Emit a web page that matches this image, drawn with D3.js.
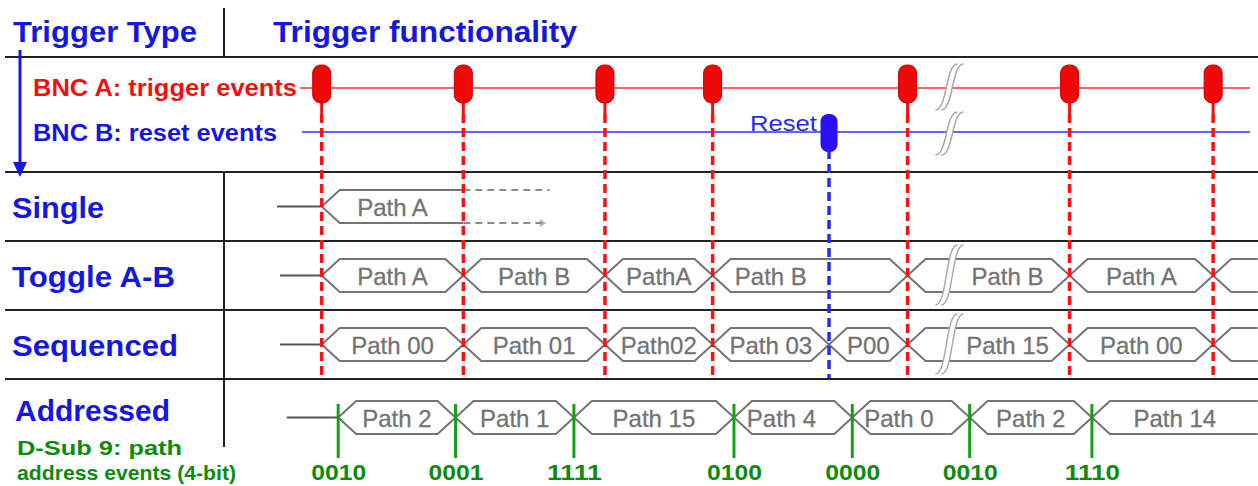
<!DOCTYPE html>
<html>
<head>
<meta charset="utf-8">
<script src="https://cdnjs.cloudflare.com/ajax/libs/d3/7.8.5/d3.min.js"></script>
<style>
  body { margin: 0; background: #fff; }
  svg { display: block; font-family: "Liberation Sans", Arial, sans-serif; }
</style>
</head>
<body>
<svg width="1258" height="486"></svg>
<script>
// Data ======================================================
// time runs over 0..100 arbitrary units across the diagram
var triggerTimes = [4.3, 18.9, 33.5, 44.6, 64.7, 81.4, 96.2];
var resetTimes = [56.6];
var breakTime = 68.6;
var singleHold = 27.8;
var timeEnd = 100.8;

var laneNames = ["Single", "Toggle A-B", "Sequenced", "Addressed"];
var signalNames = ["BNC A: trigger events", "BNC B: reset events"];

var toggleLabels = ["Path A", "Path B", "PathA", "Path B", "Path B", "Path A"];
var sequencedLabels = ["Path 00", "Path 01", "Path02", "Path 03", "P00", "Path 15", "Path 00"];

var addressStart = 0.7;
var addressTimes = [6.0, 18.1, 30.3, 46.8, 59.0, 71.1, 83.7];
var addressLabels = ["Path 2", "Path 1", "Path 15", "Path 4", "Path 0", "Path 2", "Path 14"];
var addressCodes = ["0010", "0001", "1111", "0100", "0000", "0010", "1110"];

// globals ===================================================
var BLUE = "#1616e2", RED = "#ee1111", GREEN_TXT = "#0c8c0c", GREEN = "#14a014", GRAY = "#747474";

var svg = d3.select("svg");
var x = d3.scaleLinear().domain([0, 100]).range([280, 1250]);
var laneY = d3.scaleBand().domain(laneNames).range([172, 448]);
var sigY = d3.scalePoint().domain(signalNames).range([88, 132]);
var h = 16.5, s = 18;

function laneCenter(name) {
  var c = laneY(name) + laneY.bandwidth() / 2;
  if (name == "Addressed") c += 4;
  return c;
}

// Helpers ===================================================

function fitText(g, str, x0, x1, y, size, color, weight) {
  return g.append("text")
    .attr("x", x0).attr("y", y)
    .attr("font-size", size)
    .attr("font-weight", weight || "bold")
    .attr("fill", color)
    .attr("textLength", x1 - x0)
    .attr("lengthAdjust", "spacingAndGlyphs")
    .text(str);
}

// label is centred in the widest piece of a segment cut by reset/break marks
function labelCenter(a, b) {
  var cuts = [a].concat(resetTimes, [breakTime]).filter(function(t) { return t > a && t < b; });
  cuts.push(b);
  var best = [a, b], prev = a, bestW = -1;
  cuts.forEach(function(t) {
    if (t - prev > bestW) { bestW = t - prev; best = [prev, t]; }
    prev = t;
  });
  return (x(best[0]) + x(best[1])) / 2;
}

function pathLabel(g, str, cx, cy) {
  g.append("text")
    .attr("x", cx).attr("y", cy + 9)
    .attr("text-anchor", "middle")
    .attr("font-size", 24).attr("fill", "#737373")
    .attr("stroke", "#737373").attr("stroke-width", 0.3)
    .text(str);
}

// draws a bus of hexagon boxes, X-crossing at every edge
function drawBus(g, edges, labels, cy, start) {
  g.append("line")
    .attr("x1", x(start)).attr("x2", x(edges[0]))
    .attr("y1", cy).attr("y2", cy)
    .attr("stroke", "#555").attr("stroke-width", 2);

  edges.forEach(function(t, i) {
    var a = x(t);
    var open = i == edges.length - 1;
    var bt = open ? timeEnd : edges[i + 1];
    var b = x(bt);
    var d;
    if (open) {
      d = "M" + a + "," + cy + "L" + (a + s) + "," + (cy - h) + "L" + b + "," + (cy - h) +
          "M" + a + "," + cy + "L" + (a + s) + "," + (cy + h) + "L" + b + "," + (cy + h);
    } else {
      d = "M" + a + "," + cy + "L" + (a + s) + "," + (cy - h) + "L" + (b - s) + "," + (cy - h) +
          "L" + b + "," + cy + "L" + (b - s) + "," + (cy + h) + "L" + (a + s) + "," + (cy + h) + "Z";
    }
    g.append("path").attr("d", d)
      .attr("fill", "#fff").attr("stroke", GRAY).attr("stroke-width", 2)
      .attr("stroke-linejoin", "round");
    if (labels[i]) pathLabel(g, labels[i], labelCenter(t, bt), cy);
  });
}

// gap mark made of two S curves
function drawBreak(g, xb, y0, y1) {
  function curve(dx) {
    return "M" + (xb - 10 + dx) + "," + y1 +
      "C" + (xb + 2 + dx) + "," + y1 + " " + (xb + dx) + "," + y0 + " " + (xb + 12 + dx) + "," + y0;
  }
  function curveBack(dx) {
    return "C" + (xb + dx) + "," + y0 + " " + (xb + 2 + dx) + "," + y1 + " " + (xb - 10 + dx) + "," + y1;
  }
  g.append("path")
    .attr("d", curve(0) + "L" + (xb + 18) + "," + y0 + curveBack(6) + "Z")
    .attr("fill", "#fff");
  [0, 6].forEach(function(dx) {
    g.append("path").attr("d", curve(dx))
      .attr("fill", "none").attr("stroke", "#a8a8a8").attr("stroke-width", 1.5);
  });
}

// Main ======================================================

var frame = svg.append("g").attr("class", "frame");
[57].concat(laneNames.map(function(n) { return laneY(n); })).forEach(function(y) {
  frame.append("line").attr("x1", 5).attr("x2", 1258).attr("y1", y).attr("y2", y)
    .attr("stroke", "#222").attr("stroke-width", 2);
});
frame.append("line").attr("x1", 224).attr("x2", 224).attr("y1", 8).attr("y2", 57)
  .attr("stroke", "#222").attr("stroke-width", 2);
frame.append("line").attr("x1", 224).attr("x2", 224).attr("y1", 172).attr("y2", 447)
  .attr("stroke", "#222").attr("stroke-width", 2);

// headers
var labels = svg.append("g").attr("class", "labels");
fitText(labels, "Trigger Type", 13, 197, 42, 30, BLUE);
fitText(labels, "Trigger functionality", 273, 577, 42, 30, BLUE);

// down arrow
labels.append("line").attr("x1", 20).attr("x2", 20).attr("y1", 50).attr("y2", 165)
  .attr("stroke", BLUE).attr("stroke-width", 3);
labels.append("path").attr("d", "M13,162L27,162L20,177Z").attr("fill", BLUE);

// signal names and lines
fitText(labels, signalNames[0], 33, 297, sigY(signalNames[0]) + 8, 24, RED);
fitText(labels, signalNames[1], 33, 277, sigY(signalNames[1]) + 9, 24, BLUE);
var sig = svg.append("g").attr("class", "signals");
sig.append("line").attr("x1", 300).attr("x2", x(100)).attr("y1", sigY(signalNames[0])).attr("y2", sigY(signalNames[0]))
  .attr("stroke", "#ff3030").attr("stroke-width", 1.3);
sig.append("line").attr("x1", 302).attr("x2", x(100)).attr("y1", sigY(signalNames[1])).attr("y2", sigY(signalNames[1]))
  .attr("stroke", "#3030e8").attr("stroke-width", 1.3);

// lane names
var laneBase = [11, 11, 11, 3];
laneNames.forEach(function(n, i) {
  var ends = [104, 175, 178, 170];
  fitText(labels, n, i == 3 ? 15 : 12, ends[i], laneCenter(n) + laneBase[i], 29, BLUE);
});
fitText(labels, "D-Sub 9: path", 17, 182, 455, 21, GREEN_TXT);
fitText(labels, "address events (4-bit)", 17, 236, 480, 21, GREEN_TXT);

// lanes
var lanes = svg.append("g").attr("class", "lanes");

// Single: one box that holds after the first trigger
(function() {
  var cy = laneCenter("Single");
  var a = x(triggerTimes[0]), b = x(triggerTimes[1]), e = x(singleHold);
  lanes.append("line").attr("x1", x(0) - 3).attr("x2", a).attr("y1", cy).attr("y2", cy)
    .attr("stroke", "#555").attr("stroke-width", 2);
  lanes.append("path")
    .attr("d", "M" + b + "," + (cy - h) + "L" + (a + s) + "," + (cy - h) + "L" + a + "," + cy +
               "L" + (a + s) + "," + (cy + h) + "L" + b + "," + (cy + h))
    .attr("fill", "none").attr("stroke", GRAY).attr("stroke-width", 2);
  lanes.append("path")
    .attr("d", "M" + b + "," + (cy - h) + "L" + e + "," + (cy - h) + "M" + b + "," + (cy + h) + "L" + (e - 5) + "," + (cy + h))
    .attr("fill", "none").attr("stroke", "#8a8a8a").attr("stroke-width", 2)
    .attr("stroke-dasharray", "7,5");
  lanes.append("path")
    .attr("d", "M" + (e - 10) + "," + (cy + h - 3) + "L" + (e - 5) + "," + (cy + h) + "L" + (e - 10) + "," + (cy + h + 3))
    .attr("fill", "none").attr("stroke", "#aaa").attr("stroke-width", 1.5);
  pathLabel(lanes, "Path A", (a + b) / 2, cy);
})();

drawBus(lanes, triggerTimes, toggleLabels, laneCenter("Toggle A-B"), 0);
drawBus(lanes, triggerTimes.concat(resetTimes).sort(d3.ascending), sequencedLabels, laneCenter("Sequenced"), 0);
drawBus(lanes, addressTimes, addressLabels, laneCenter("Addressed"), addressStart);

// gap marks
var xb = x(breakTime);
drawBreak(lanes, xb, 64, 110);
drawBreak(lanes, xb, 112, 155);
drawBreak(lanes, xb, laneY("Toggle A-B") + 4, laneY("Toggle A-B") + 64);
drawBreak(lanes, xb, laneY("Sequenced") + 4, laneY("Sequenced") + 64);

// trigger pulses and dashed guides
var ev = svg.append("g").attr("class", "events");
ev.selectAll(".trig-stem").data(triggerTimes).enter().append("line")
  .attr("x1", function(d) { return x(d); }).attr("x2", function(d) { return x(d); })
  .attr("y1", 100).attr("y2", 114)
  .attr("stroke", RED).attr("stroke-width", 3);
ev.selectAll(".trig-dash").data(triggerTimes).enter().append("line")
  .attr("x1", function(d) { return x(d); }).attr("x2", function(d) { return x(d); })
  .attr("y1", 114).attr("y2", 376)
  .attr("stroke", "#ff1010").attr("stroke-width", 3.5)
  .attr("stroke-dasharray", "9,5");
ev.selectAll(".trig").data(triggerTimes).enter().append("rect")
  .attr("x", function(d) { return x(d) - 9; }).attr("y", 65)
  .attr("width", 18).attr("height", 38).attr("rx", 8)
  .attr("fill", "#ee0808").attr("stroke", "#c80000").attr("stroke-width", 1);

ev.selectAll(".reset-dash").data(resetTimes).enter().append("line")
  .attr("x1", function(d) { return x(d); }).attr("x2", function(d) { return x(d); })
  .attr("y1", 150).attr("y2", 378)
  .attr("stroke", "#2a2af0").attr("stroke-width", 3.5)
  .attr("stroke-dasharray", "9,5");
ev.selectAll(".reset").data(resetTimes).enter().append("rect")
  .attr("x", function(d) { return x(d) - 8.5; }).attr("y", 114)
  .attr("width", 17).attr("height", 38).attr("rx", 7.5)
  .attr("fill", "#2a10f8");
ev.selectAll(".reset-label").data(resetTimes).enter().append("text")
  .attr("x", function(d) { return x(d) - 79; }).attr("y", 131)
  .attr("font-size", 22).attr("fill", "#2a2af0")
  .attr("textLength", 67).attr("lengthAdjust", "spacingAndGlyphs")
  .text("Reset");

// address events
ev.selectAll(".addr").data(addressTimes).enter().append("line")
  .attr("x1", function(d) { return x(d); }).attr("x2", function(d) { return x(d); })
  .attr("y1", 404).attr("y2", 458)
  .attr("stroke", GREEN).attr("stroke-width", 3);
ev.selectAll(".code").data(addressCodes).enter().append("text")
  .attr("x", function(d, i) { return x(addressTimes[i]) - 27; }).attr("y", 480)
  .attr("font-size", 22).attr("font-weight", "bold").attr("fill", GREEN_TXT)
  .attr("textLength", 55).attr("lengthAdjust", "spacingAndGlyphs")
  .text(function(d) { return d; });
</script>
</body>
</html>
